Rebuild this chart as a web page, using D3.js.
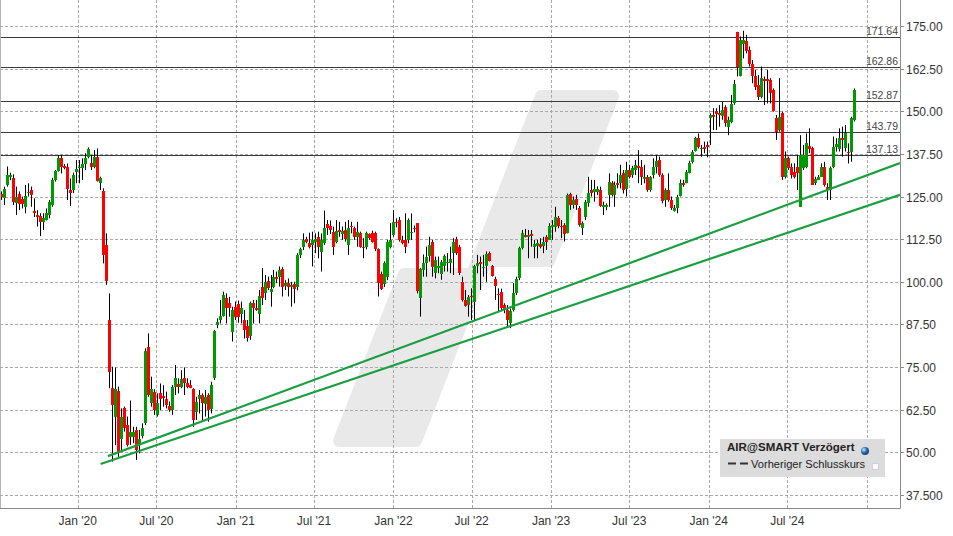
<!DOCTYPE html>
<html><head><meta charset="utf-8">
<script src="https://cdn.jsdelivr.net/npm/d3@7"></script>
<style>
body{margin:0;background:#fff;}
svg{display:block;font-family:"Liberation Sans",Arial,sans-serif;}
</style>
</head><body><svg id="chart" width="953" height="536"></svg>
<script>
// weekly candles: [open, high, low, close]
const weeklyOHLC = [
[125.6,126.5,124.0,124.8],[124.5,127.9,122.5,127.1],[128.4,133.8,127.9,131.3],[130.8,132.0,129.8,131.3],[130.5,131.5,122.5,123.5],
[123.0,127.9,119.6,125.0],[125.6,126.5,121.0,122.8],[124.2,125.0,121.5,122.8],[122.0,128.4,120.1,125.2],[126.0,128.9,125.0,126.4],
[126.9,127.9,122.0,125.4],[120.8,124.5,119.0,120.1],[119.6,121.0,116.2,118.9],[119.3,120.1,113.4,117.6],[117.6,120.1,115.2,118.6],
[118.1,121.5,118.0,120.1],[119.6,124.0,118.6,123.5],[122.5,130.5,122.0,129.8],[129.8,132.8,129.4,132.5],[132.5,137.2,132.3,136.2],
[136.2,137.2,131.8,133.6],[134.0,134.5,133.0,133.5],[133.8,134.7,124.0,127.1],[126.9,130.3,122.2,125.9],[126.9,132.0,126.0,131.3],
[132.1,135.7,128.9,133.1],[133.3,135.7,128.9,133.8],[133.3,136.2,129.9,134.4],[134.4,137.7,132.8,136.4],[136.7,139.4,136.2,138.9],
[134.9,137.2,132.8,133.6],[133.8,138.6,133.3,136.7],[136.7,139.1,129.4,129.6],[129.1,130.8,126.9,130.5],[126.6,127.4,105.4,107.9],
[110.8,114.2,99.1,100.3],[88.8,96.6,68.8,73.6],[69.0,75.1,47.3,63.9],[60.5,74.9,52.1,68.5],[68.0,69.3,48.7,49.7],
[53.9,62.9,50.2,60.5],[63.1,63.4,56.1,57.1],[58.0,60.5,51.7,52.2],[54.4,65.2,52.2,56.1],[54.4,57.5,52.7,56.1],
[56.6,57.5,47.8,50.7],[52.2,56.6,49.7,53.8],[54.8,58.5,54.1,57.2],[58.5,80.5,58.0,79.8],[80.8,84.9,66.3,66.8],
[64.4,72.2,63.4,68.5],[67.8,68.5,61.0,62.4],[61.0,67.3,60.5,64.6],[67.3,70.2,62.4,65.5],[66.5,69.7,63.4,65.8],
[65.7,67.8,62.9,63.9],[63.7,64.9,61.9,62.4],[62.4,69.7,61.0,69.3],[69.3,75.6,66.8,71.7],[70.0,71.7,67.3,69.1],
[69.3,74.1,68.8,71.4],[71.7,74.9,66.8,70.2],[70.2,71.7,68.8,69.1],[69.7,71.2,68.8,68.8],[68.5,68.8,57.5,59.5],
[61.9,66.3,59.5,64.9],[65.5,68.3,61.4,66.8],[66.8,67.3,59.5,64.4],[64.2,68.3,60.5,66.3],[66.8,67.3,59.0,62.4],
[62.7,70.7,61.4,69.7],[71.7,85.9,71.2,85.6],[87.3,89.3,86.4,88.3],[88.8,94.7,87.8,90.0],[90.1,97.1,89.8,96.1],
[95.4,96.6,87.8,92.2],[93.9,95.6,89.8,92.2],[85.4,92.7,82.5,91.7],[92.7,94.2,88.8,89.8],[93.5,94.5,88.0,89.8],
[90.6,94.2,87.8,92.2],[88.8,91.7,83.4,86.0],[87.0,88.8,82.5,83.5],[84.1,94.2,83.0,93.7],[93.7,94.7,87.8,92.2],
[92.4,94.7,91.5,91.6],[90.6,97.6,87.8,95.7],[98.6,104.0,93.2,95.2],[96.6,102.0,94.7,100.0],[100.3,101.5,97.6,98.1],
[97.1,102.0,92.7,97.8],[98.6,103.5,98.1,101.3],[101.3,103.0,99.6,100.9],[101.3,104.5,98.6,103.5],[103.7,104.3,95.7,98.6],
[98.8,100.5,97.6,99.6],[99.8,101.0,95.7,98.6],[98.4,100.0,92.7,99.1],[99.3,100.0,93.7,97.8],[98.4,108.4,97.5,107.9],
[107.9,110.0,107.0,109.6],[110.3,114.2,109.3,112.3],[112.6,113.2,111.3,111.8],[111.5,114.4,109.8,110.1],[110.8,114.7,104.5,112.3],
[111.8,114.2,108.4,112.6],[113.0,114.7,106.9,110.1],[108.6,114.2,103.0,112.3],[111.3,120.9,110.8,115.9],[117.0,118.1,113.7,115.7],
[116.5,118.0,114.0,115.2],[114.7,116.2,107.9,110.3],[111.8,118.1,111.3,115.0],[115.2,117.6,113.2,114.7],[114.0,116.2,112.3,115.0],
[115.2,117.6,111.8,112.5],[110.8,118.1,107.9,115.9],[116.4,117.6,114.2,116.0],[115.7,116.2,112.3,113.2],[113.2,117.6,110.3,114.7],
[114.4,114.7,110.0,110.1],[110.3,112.8,106.9,109.8],[110.1,114.7,109.5,114.2],[113.9,114.2,112.3,112.8],[114.2,115.0,111.5,111.8],
[114.2,114.7,109.0,109.5],[109.6,109.8,95.7,99.6],[102.3,103.0,97.6,97.8],[99.4,106.0,98.5,105.4],[101.5,112.3,100.5,111.8],
[110.3,117.2,109.8,112.3],[113.7,121.0,113.2,117.6],[117.6,118.6,116.0,117.1],[118.1,119.0,111.8,112.3],[112.3,113.5,111.0,111.5],
[112.3,120.1,108.4,110.3],[112.3,118.6,111.3,118.1],[114.2,120.1,112.3,114.7],[115.9,116.5,114.5,115.4],[117.2,117.2,96.6,97.4],
[95.2,104.0,89.8,103.7],[103.5,108.0,101.5,105.4],[105.4,110.3,101.5,107.4],[107.6,113.2,105.9,110.8],[111.8,112.3,101.5,104.3],
[102.7,107.4,101.0,106.4],[104.0,107.4,102.5,104.5],[102.3,106.4,100.6,105.9],[104.5,108.0,103.0,107.6],[105.4,108.4,103.0,105.9],
[105.4,110.3,102.5,106.7],[108.4,112.8,102.0,111.8],[112.5,113.2,107.9,108.4],[110.3,110.8,102.0,102.5],[100.0,101.5,94.2,94.7],
[94.7,97.6,92.7,92.9],[93.2,96.1,89.8,95.5],[95.9,98.1,88.8,95.5],[94.2,105.0,88.8,104.5],[104.5,107.9,102.5,105.6],
[105.9,107.4,97.6,105.2],[104.0,107.9,101.5,104.3],[104.6,108.9,100.0,108.2],[108.4,108.9,106.0,106.2],[104.5,104.9,101.5,101.7],
[100.7,101.5,94.7,98.8],[96.4,98.1,91.2,96.0],[97.1,98.0,91.5,92.2],[93.2,93.7,90.8,91.7],[91.7,93.2,86.9,88.8],
[87.8,92.2,86.4,91.3],[91.7,99.6,91.3,96.6],[96.6,101.5,96.1,100.7],[101.0,110.3,100.5,109.8],[109.8,115.2,109.5,114.4],
[113.7,115.5,113.0,113.2],[113.2,115.2,106.9,113.7],[113.9,115.2,110.3,113.4],[110.3,112.3,106.9,111.1],[110.5,112.3,106.9,111.3],
[111.1,112.8,109.8,110.3],[110.5,113.2,108.4,111.8],[113.0,113.7,109.3,111.8],[112.3,117.2,112.3,116.4],[116.0,118.1,112.3,116.7],
[116.2,122.0,114.7,118.9],[118.6,119.3,115.7,116.4],[116.5,118.1,112.8,116.0],[116.7,117.2,111.8,114.0],[114.4,125.9,114.2,125.5],
[125.8,126.1,121.1,122.5],[122.5,125.0,121.5,124.0],[124.2,125.5,121.1,122.5],[121.5,122.2,116.2,116.7],[115.7,117.7,113.7,117.2],
[118.9,124.0,118.1,123.3],[123.0,130.8,122.0,126.1],[126.9,129.9,125.0,126.1],[126.4,129.9,123.5,127.3],[126.4,128.0,125.5,127.1],
[126.9,127.9,122.0,122.2],[122.0,123.5,119.6,122.5],[122.0,123.0,121.0,122.5],[125.5,131.8,122.0,129.3],[128.9,129.5,125.0,125.5],
[125.5,129.4,122.0,128.4],[129.1,131.8,127.4,128.4],[129.1,134.3,127.4,131.3],[131.8,132.8,125.9,126.9],[127.1,135.2,125.0,132.8],
[132.8,134.3,130.3,130.8],[131.3,134.0,130.5,133.3],[132.8,135.7,131.3,134.3],[134.0,138.6,128.9,133.3],[133.8,135.7,128.4,130.8],
[130.3,134.3,128.9,130.6],[130.6,131.3,126.4,126.9],[126.9,131.0,126.4,130.6],[131.3,136.2,130.3,133.6],[133.6,137.2,131.8,135.4],
[135.7,136.7,130.8,131.3],[131.3,131.8,123.0,123.7],[124.0,127.4,122.0,126.9],[126.9,131.8,123.5,124.0],[124.0,125.0,121.1,121.5],
[120.9,122.5,120.6,121.5],[121.5,125.5,120.1,125.0],[125.2,130.0,125.0,129.1],[128.9,129.9,127.9,128.4],[129.1,132.8,128.9,132.3],
[132.0,135.5,131.8,134.7],[135.2,138.6,134.7,138.2],[138.4,142.5,138.2,142.1],[142.1,143.5,139.1,139.6],[139.0,140.1,136.7,139.3],
[139.6,141.1,137.7,139.0],[140.1,141.1,136.5,139.6],[147.9,149.4,140.1,148.9],[148.9,150.9,144.5,148.4],[150.2,150.9,144.5,149.2],
[149.6,151.8,145.5,148.9],[148.6,152.8,147.5,150.4],[151.2,151.8,145.5,146.5],[145.5,148.4,143.0,147.5],[147.0,154.8,146.5,152.1],
[152.5,159.2,151.9,158.0],[173.3,173.3,160.2,163.1],[160.4,171.9,160.2,170.9],[169.7,173.6,165.5,170.9],[170.7,172.4,167.0,167.8],
[168.0,169.0,163.1,163.9],[163.9,165.0,158.2,160.2],[160.2,162.1,156.2,157.2],[157.7,160.6,153.3,154.3],[154.3,163.1,153.8,159.7],
[159.6,160.2,151.8,159.0],[159.4,162.1,152.3,159.0],[159.2,159.7,152.3,155.5],[156.2,156.7,149.9,150.2],[147.9,148.9,141.6,144.0],
[144.5,159.7,144.0,148.4],[149.4,149.9,129.9,130.8],[130.8,138.2,130.3,136.2],[136.2,136.7,132.8,133.3],[133.8,134.7,130.3,131.3],
[132.3,134.7,130.3,130.8],[133.8,137.2,126.9,131.8],[122.0,143.0,122.0,137.2],[133.3,140.1,132.8,137.2],[133.8,143.5,133.3,140.6],
[139.8,145.0,137.7,138.8],[139.2,139.6,128.4,128.4],[128.9,130.8,128.4,130.0],[129.9,131.3,129.9,130.8],[130.8,134.7,130.8,133.8],
[133.8,135.2,127.9,128.4],[127.9,128.9,124.0,126.9],[126.9,133.8,124.0,133.3],[133.8,142.6,133.3,139.6],[139.6,142.1,138.2,140.4],
[138.8,145.0,138.2,142.1],[142.1,145.5,136.7,141.6],[139.1,146.0,138.2,143.5],[138.2,140.6,134.7,137.7],[138.2,148.4,135.2,147.9],
[147.5,156.7,147.0,156.2]
];
const firstCandleDate = "2019-07-08";
const lastCandleDate = "2024-12-02";

const yTickValues = [175, 162.5, 150, 137.5, 125, 112.5, 100, 87.5, 75, 62.5, 50, 37.5];
const yTickLabels = ["175.00","162.50","150.00","137.50","125.00","112.50","100.00","87.50","75.00","62.50","50.00","37.500"];

const xTickDates  = ["2020-01-01","2020-07-01","2021-01-01","2021-07-01","2022-01-01","2022-07-01","2023-01-01","2023-07-01","2024-01-01","2024-07-01","2025-01-01"];
const xTickLabels = ["Jan '20","Jul '20","Jan '21","Jul '21","Jan '22","Jul '22","Jan '23","Jul '23","Jan '24","Jul '24",""];

const levelValues = [171.64, 162.86, 152.87, 143.79, 137.13];
const levelLabels = ["171.64","162.86","152.87","143.79","137.13"];

const trendUpper = [["2020-03-11", 48.9], ["2025-03-19", 134.8]];
const trendLower = [["2020-02-23", 46.6], ["2025-03-19", 125.5]];

const legendTitle = "AIR@SMART Verzögert";
const legendPrev  = "Vorheriger Schlusskurs";

// ---------- drawing ----------
const svg = d3.select("#chart");
const plotL = 0, plotR = 900, plotT = 0, plotB = 508;
const parse = d3.utcParse("%Y-%m-%d");

const y  = d3.scaleLinear().domain([37.5, 175]).range([495, 26]);
const xt = d3.scaleUtc().domain([parse("2019-07-05"), parse("2025-03-19")]).range([plotL, plotR]);
const xi = d3.scaleLinear().domain([0, weeklyOHLC.length - 1])
  .range([xt(parse(firstCandleDate)), xt(parse(lastCandleDate))]);

const defs = svg.append("defs");
defs.append("clipPath").attr("id","clip")
  .append("rect").attr("x",plotL).attr("y",plotT).attr("width",plotR-plotL).attr("height",plotB-plotT);

// watermark
const wm = [[541,96],[613,96],[549,261],[486,261],[416,441],[339,441],[404,274],[472,274]];
svg.append("path").attr("d", "M" + wm.map(p=>p.join(",")).join("L") + "Z")
  .attr("fill","#e9e9e9").attr("stroke","#e9e9e9").attr("stroke-width",12).attr("stroke-linejoin","round");

const grid = svg.append("g").attr("stroke","#a8a8a8").attr("stroke-width",1).attr("stroke-dasharray","3,2");
yTickValues.forEach(v=>{
  const yy = Math.round(y(v)) + 0.5;
  grid.append("line").attr("x1",plotL).attr("x2",plotR).attr("y1",yy).attr("y2",yy);
});
xTickDates.forEach(d=>{
  const xx = Math.round(xt(parse(d))) + 0.5;
  grid.append("line").attr("x1",xx).attr("x2",xx).attr("y1",plotT).attr("y2",plotB);
});

// level lines
const lv = svg.append("g");
levelValues.forEach((v,i)=>{
  const yy = Math.round(y(v)) + 0.5;
  lv.append("line").attr("x1",plotL).attr("x2",plotR).attr("y1",yy).attr("y2",yy)
    .attr("stroke","#3a3a3a").attr("stroke-width",1.1);
  lv.append("text").attr("x",898).attr("y",yy-2.5).attr("text-anchor","end")
    .attr("font-size","10.5px").attr("fill","#444").text(levelLabels[i]);
});

// candles
const cg = svg.append("g").attr("clip-path","url(#clip)");
weeklyOHLC.forEach((d,i)=>{
  const [o,h,l,c] = d;
  const cx = Math.round(xi(i)) + 0.5;
  cg.append("line").attr("x1",cx).attr("x2",cx).attr("y1",y(h)).attr("y2",y(l))
    .attr("stroke","#000").attr("stroke-width",1);
});
weeklyOHLC.forEach((d,i)=>{
  const [o,h,l,c] = d;
  const cx = Math.round(xi(i)) + 0.5;
  const top = y(Math.max(o,c)), bot = y(Math.min(o,c));
  cg.append("rect").attr("x",cx-1.5).attr("width",3)
    .attr("y",top).attr("height",Math.max(1.2, bot-top))
    .attr("fill", c >= o ? "#009a00" : "#ff0000")
    .attr("shape-rendering","crispEdges");
});

// trend lines
const tl = d3.line().x(p=>xt(parse(p[0]))).y(p=>y(p[1]));
[trendUpper, trendLower].forEach(t=>{
  svg.append("path").attr("d", tl(t)).attr("clip-path","url(#clip)")
    .attr("fill","none").attr("stroke","#1a9e40").attr("stroke-width",2.2);
});

// frame
svg.append("line").attr("x1",0.5).attr("x2",0.5).attr("y1",0).attr("y2",plotB).attr("stroke","#b5b5b5");
svg.append("line").attr("x1",plotR+0.5).attr("x2",plotR+0.5).attr("y1",0).attr("y2",plotB+0.5).attr("stroke","#8a8a8a");
svg.append("line").attr("x1",0).attr("x2",plotR+0.5).attr("y1",plotB+0.5).attr("y2",plotB+0.5).attr("stroke","#8a8a8a");

// right axis
const ya = svg.append("g");
yTickValues.forEach((v,i)=>{
  const yy = Math.round(y(v)) + 0.5;
  ya.append("line").attr("x1",plotR).attr("x2",plotR+4).attr("y1",yy).attr("y2",yy).attr("stroke","#8a8a8a");
  ya.append("text").attr("x",906).attr("y",yy+4.5).attr("font-size","12px").attr("fill","#333").text(yTickLabels[i]);
});

// bottom axis
const xa = svg.append("g");
xTickDates.forEach((d,i)=>{
  if (!xTickLabels[i]) return;
  xa.append("text").attr("x",xt(parse(d))).attr("y",525).attr("text-anchor","middle")
    .attr("font-size","12px").attr("fill","#333").text(xTickLabels[i]);
});

// legend
const lg = svg.append("g");
lg.append("rect").attr("x",720).attr("y",439).attr("width",165).attr("height",38).attr("fill","#dcdcdc");
lg.append("text").attr("x",727).attr("y",451).attr("font-size","11.5px").attr("font-weight","bold")
  .attr("fill","#222").text(legendTitle);
const grad = defs.append("radialGradient").attr("id","bl").attr("cx","35%").attr("cy","35%");
grad.append("stop").attr("offset","0%").attr("stop-color","#cfe6ff");
grad.append("stop").attr("offset","60%").attr("stop-color","#3f86c8");
grad.append("stop").attr("offset","100%").attr("stop-color","#1c4f86");
lg.append("circle").attr("cx",865).attr("cy",451).attr("r",4).attr("fill","url(#bl)");
lg.append("line").attr("x1",728).attr("x2",748).attr("y1",463.5).attr("y2",463.5)
  .attr("stroke","#333").attr("stroke-width",2).attr("stroke-dasharray","8,4");
lg.append("text").attr("x",751).attr("y",468).attr("font-size","11.1px").attr("fill","#222").text(legendPrev);
lg.append("rect").attr("x",872.5).attr("y",463.5).attr("width",6).attr("height",6)
  .attr("fill","#fafafa").attr("stroke","#cfcfe0").attr("stroke-width",1);
</script>
</body></html>
